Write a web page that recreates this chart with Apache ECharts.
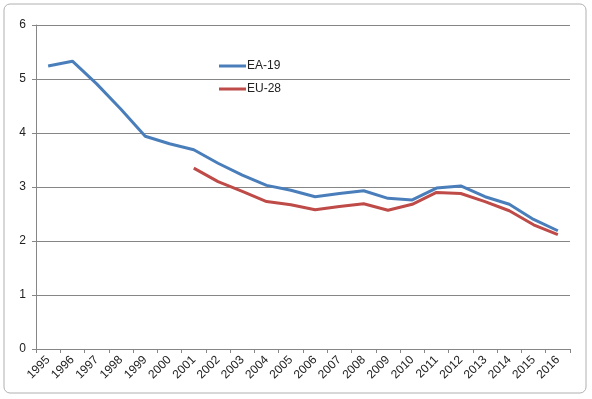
<!DOCTYPE html>
<html>
<head>
<meta charset="utf-8">
<script src="https://cdn.jsdelivr.net/npm/echarts@6/dist/echarts.min.js"></script>
<style>
  html, body { margin: 0; padding: 0; background: #fff; }
  #chart { width: 592px; height: 399px; }
</style>
</head>
<body>
<div id="chart"></div>
<script>
// 数据
var years = ['1995', '1996', '1997', '1998', '1999', '2000', '2001', '2002', '2003', '2004', '2005',
    '2006', '2007', '2008', '2009', '2010', '2011', '2012', '2013', '2014', '2015', '2016'];
var ea19 = [5.24, 5.33, 4.91, 4.44, 3.94, 3.80, 3.69, 3.44, 3.22, 3.03, 2.94,
    2.82, 2.88, 2.93, 2.79, 2.76, 2.98, 3.02, 2.82, 2.68, 2.40, 2.19];
var eu28 = [null, null, null, null, null, null, 3.35, 3.10, 2.92, 2.73, 2.67,
    2.58, 2.64, 2.69, 2.57, 2.68, 2.90, 2.88, 2.73, 2.56, 2.30, 2.12];
var yTicks = [0, 1, 2, 3, 4, 5, 6];

var myChart = echarts.init(document.getElementById('chart'));
var option = {
    animation: false,
    color: ['#4a7ebb', '#be4b48'],
    textStyle: {
        fontFamily: 'Liberation Sans'
    },
    graphic: [{
        type: 'rect',
        shape: { x: 4, y: 4, width: 582, height: 389, r: 6 },
        style: { fill: 'none', stroke: '#b0b0b0', lineWidth: 1 }
    }],
    legend: {
        orient: 'vertical',
        left: 214,
        top: 55,
        itemWidth: 27,
        itemHeight: 3,
        itemGap: 11,
        icon: 'rect',
        textStyle: { color: '#222', fontSize: 12, padding: [0, 0, 0, -4] },
        data: ['EA-19', 'EU-28']
    },
    grid: {
        left: 36,
        right: 22,
        top: 25,
        bottom: 50,
        containLabel: false
    },
    xAxis: {
        type: 'category',
        boundaryGap: true,
        data: years,
        axisLine: { lineStyle: { color: '#868686' } },
        axisTick: { show: true, length: 4, lineStyle: { color: '#868686' } },
        axisLabel: {
            rotate: 45,
            interval: 0,
            color: '#222',
            fontSize: 12,
            margin: 9
        }
    },
    yAxis: {
        type: 'value',
        min: yTicks[0],
        max: yTicks[yTicks.length - 1],
        interval: 1,
        axisLine: { show: true, lineStyle: { color: '#868686' } },
        axisTick: { show: true, length: 4, lineStyle: { color: '#868686' } },
        splitLine: { show: true, lineStyle: { color: '#868686' } },
        axisLabel: { color: '#222', fontSize: 12, margin: 10 }
    },
    series: [{
        name: 'EA-19',
        type: 'line',
        symbol: 'none',
        lineStyle: { width: 3 },
        data: ea19
    }, {
        name: 'EU-28',
        type: 'line',
        symbol: 'none',
        lineStyle: { width: 3 },
        data: eu28
    }]
};
myChart.setOption(option);
</script>
</body>
</html>
